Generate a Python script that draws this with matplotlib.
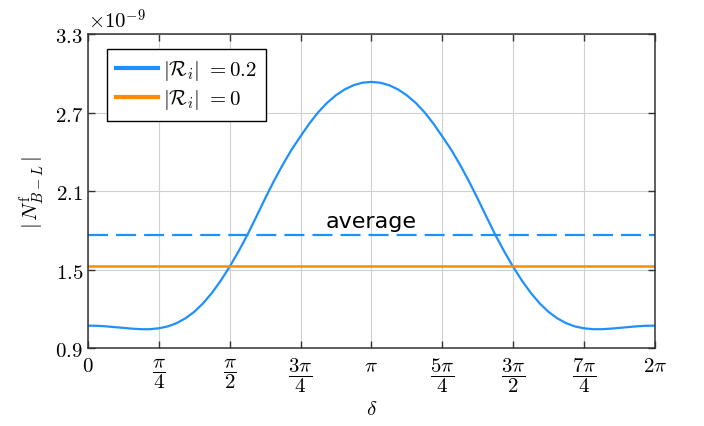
import numpy as np
import matplotlib
matplotlib.use("Agg")
from matplotlib import pyplot as plt

plt.rcParams['mathtext.fontset'] = 'cm'
plt.rcParams['lines.scale_dashes'] = False

# phase delta in units of pi, step pi/32
delta_pi = np.arange(65) / 32.

# |N_{B-L}^f| in units of 1e-9 for |R_i| = 0.2
N_R02 = np.array([1.073, 1.072, 1.068, 1.062, 1.056, 1.050, 1.046, 1.046, 1.053, 1.067,
                  1.092, 1.129, 1.179, 1.244, 1.324, 1.418, 1.524, 1.641, 1.767, 1.905,
                  2.045, 2.180, 2.305, 2.420, 2.521, 2.619, 2.705, 2.777, 2.835, 2.880,
                  2.912, 2.931, 2.937,
                  2.931, 2.912, 2.880, 2.835, 2.777, 2.705, 2.619, 2.521, 2.420, 2.305,
                  2.180, 2.045, 1.905, 1.767, 1.641, 1.524, 1.418, 1.324, 1.244, 1.179,
                  1.129, 1.092, 1.067, 1.053, 1.046, 1.046, 1.050, 1.056, 1.062, 1.068,
                  1.072, 1.073])
N_R02_avg = 1.77
N_R0 = 1.53

xticks = np.array([0, 1, 2, 3, 4, 5, 6, 7, 8]) * np.pi / 4
xticklabels = [r'$0$', r'$\dfrac{\pi}{4}$', r'$\dfrac{\pi}{2}$', r'$\dfrac{3\pi}{4}$', r'$\pi$',
               r'$\dfrac{5\pi}{4}$', r'$\dfrac{3\pi}{2}$', r'$\dfrac{7\pi}{4}$', r'$2\pi$']
yticks = [0.9, 1.5, 2.1, 2.7, 3.3]

blue = '#1E90FF'
orange = '#FF8C00'

fig = plt.figure(figsize=(7.04, 4.27), dpi=100)
ax = fig.add_axes([0.125, 0.182, 0.805, 0.735])

delta = delta_pi * np.pi
ax.plot(delta, N_R02, color=blue, lw=1.6, label=r'$|\mathcal{R}_i|\ = 0.2$')
ax.axhline(N_R0, color=orange, lw=1.8, label=r'$|\mathcal{R}_i|\ = 0$')
ax.axhline(N_R02_avg, color=blue, lw=1.6, dashes=(14.4, 5.8))
ax.text(np.pi, 1.83, 'average', ha='center', va='baseline', fontsize=16,
        family='DejaVu Sans')

ax.set_xlim(0, 2 * np.pi)
ax.set_ylim(0.9, 3.3)
ax.set_xticks(xticks)
ax.set_xticklabels(xticklabels, va='top')
ax.set_yticks(yticks)
ax.set_yticklabels([r'$%.1f$' % y for y in yticks])
ax.tick_params(direction='in', length=5, width=1, labelsize=15, top=True, right=True,
               color='#333333')
ax.tick_params(axis='x', pad=5)
ax.grid(True, color='#d0d0d0', lw=0.8)
for s in ax.spines.values():
    s.set_color('#333333')
    s.set_linewidth(1.1)

ax.set_xlabel(r'$\delta$', fontsize=15, labelpad=3)
ax.set_ylabel(r'$|\,N^{\mathrm{f}}_{B-L}\,|$', fontsize=15, labelpad=6)
ax.text(0, 1.01, r'$\times10^{-9}$', transform=ax.transAxes, fontsize=15,
        ha='left', va='bottom')

leg = ax.legend(loc='upper left', bbox_to_anchor=(0.0335, 0.955), borderaxespad=0,
                fontsize=15, handlelength=2.0, fancybox=False, framealpha=1,
                edgecolor='black', borderpad=0.45, labelspacing=0.25, handletextpad=0.25)
leg.get_frame().set_linewidth(1.0)
for h in leg.get_lines():
    h.set_linewidth(3)

fig.savefig('out.png', dpi=100)
